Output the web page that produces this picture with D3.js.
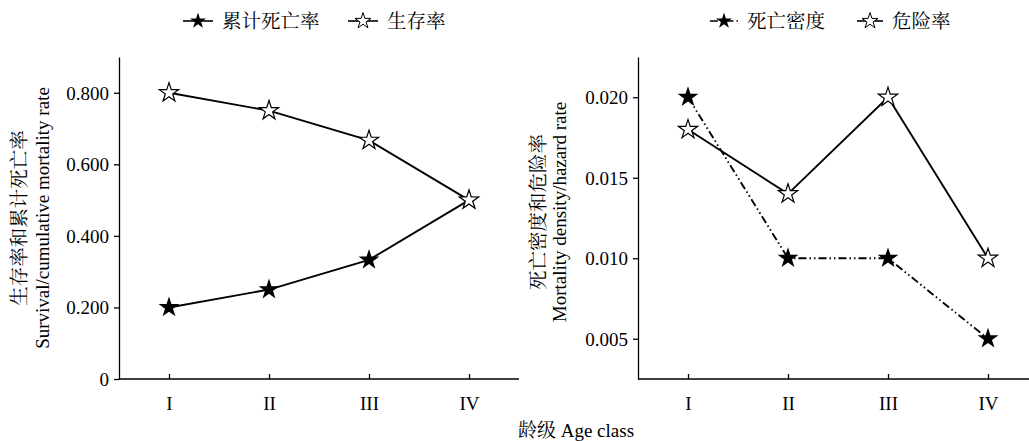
<!DOCTYPE html>
<html>
<head>
<meta charset="utf-8">
<script src="https://cdn.jsdelivr.net/npm/d3@7"></script>
<style>
  body { margin: 0; background: #fff; }
  svg text { font-family: "Times New Roman", "Liberation Serif", "Noto Serif CJK SC", "Noto Sans CJK SC", serif; fill: #000; }
  .axis path, .axis line { stroke: #000; stroke-width: 1.3; }
  .axis text { font-size: 19px; }
</style>
</head>
<body>
<div id="chart"></div>
<script>
// Age classes shared by both panels
var ageClasses = ["I", "II", "III", "IV"];

// Left panel: survival and cumulative mortality
var cumMortality = [0.200, 0.250, 0.333, 0.500];
var survival = [0.800, 0.750, 0.667, 0.500];
var leftTicks = [0, 0.2, 0.4, 0.6, 0.8];

// Right panel: mortality density and hazard rate
var mortDensity = [0.020, 0.010, 0.010, 0.005];
var hazardRate = [0.018, 0.014, 0.020, 0.010];
var rightTicks = [0.005, 0.010, 0.015, 0.020];

var W = 1029, H = 441;
var svg = d3.select("#chart").append("svg")
    .attr("width", W)
    .attr("height", H);

var dashDotDot = "8,3,1.5,3,1.5,3";

function drawPanel(opts) {
    var x = d3.scalePoint()
        .domain(ageClasses)
        .range([opts.left, opts.left + 400])
        .padding(0.5);
    var y = d3.scaleLinear()
        .domain(opts.domain)
        .range([379, 57]);

    // x axis: ticks pointing inward
    var gx = svg.append("g")
        .attr("class", "axis")
        .attr("transform", "translate(0,379)")
        .call(d3.axisBottom(x).tickSizeInner(-5).tickSizeOuter(0).tickPadding(18));
    gx.select(".domain").attr("d", "M" + opts.left + ",0H" + (opts.left + 400));

    // y axis
    var gy = svg.append("g")
        .attr("class", "axis")
        .attr("transform", "translate(" + opts.left + ",0)")
        .call(d3.axisLeft(y).tickValues(opts.ticks).tickFormat(opts.fmt)
            .tickSizeInner(5).tickSizeOuter(0).tickPadding(5));
    gy.selectAll(".tick text").attr("dy", "0.34em");

    // y labels (two lines, rotated)
    svg.append("text")
        .attr("transform", "translate(" + opts.labelX1 + "," + opts.labelY + ") rotate(-90)")
        .attr("text-anchor", "middle")
        .attr("dy", "0.35em")
        .style("font-size", "19.5px")
        .text(opts.labelCn);
    svg.append("text")
        .attr("transform", "translate(" + opts.labelX2 + "," + opts.labelY + ") rotate(-90)")
        .attr("text-anchor", "middle")
        .attr("dy", "0.35em")
        .style("font-size", "19px")
        .text(opts.labelEn);

    opts.series.forEach(function (s) {
        var line = d3.line()
            .x(function (d, i) { return x(ageClasses[i]); })
            .y(function (d) { return y(d); });
        svg.append("path")
            .datum(s.values)
            .attr("d", line)
            .attr("fill", "none")
            .attr("stroke", "#000")
            .attr("stroke-width", 1.9)
            .attr("stroke-dasharray", s.dash || null);
    });
    opts.series.forEach(function (s) {
        svg.selectAll(null)
            .data(s.values)
            .enter()
            .append("path")
            .attr("transform", function (d, i) { return "translate(" + x(ageClasses[i]) + "," + y(d) + ")"; })
            .attr("d", d3.symbol(d3.symbolStar, s.filled ? 135 : 115))
            .attr("fill", s.filled ? "#000" : "#fff")
            .attr("stroke", "#000")
            .attr("stroke-width", s.filled ? 0 : 1.2);
    });

    // legend
    opts.legend.forEach(function (l) {
        var g = svg.append("g").attr("transform", "translate(" + l.x + ",21)");
        g.append("line")
            .attr("x1", 0).attr("x2", l.w)
            .attr("stroke", "#000")
            .attr("stroke-width", 1.6)
            .attr("stroke-dasharray", l.dash || null);
        g.append("path")
            .attr("transform", "translate(" + (l.w / 2) + ",0)")
            .attr("d", d3.symbol(d3.symbolStar, 80))
            .attr("fill", l.filled ? "#000" : "#fff")
            .attr("stroke", "#000")
            .attr("stroke-width", l.filled ? 0 : 1);
        g.append("text")
            .attr("x", l.w + 9)
            .attr("dy", "0.35em")
            .style("font-size", "19.5px")
            .text(l.label);
    });
}

drawPanel({
    left: 119,
    domain: [0, 0.9],
    ticks: leftTicks,
    fmt: function (d) { return d === 0 ? "0" : d3.format(".3f")(d); },
    labelX1: 19, labelX2: 42, labelY: 218,
    labelCn: "生存率和累计死亡率",
    labelEn: "Survival/cumulative mortality rate",
    series: [
        { values: cumMortality, filled: true },
        { values: survival, filled: false }
    ],
    legend: [
        { x: 183, w: 30, filled: true, label: "累计死亡率" },
        { x: 348, w: 30, filled: false, label: "生存率" }
    ]
});

drawPanel({
    left: 638,
    domain: [0.0025, 0.0225],
    ticks: rightTicks,
    fmt: d3.format(".3f"),
    labelX1: 538, labelX2: 559, labelY: 212,
    labelCn: "死亡密度和危险率",
    labelEn: "Mortality density/hazard rate",
    series: [
        { values: mortDensity, filled: true, dash: dashDotDot },
        { values: hazardRate, filled: false }
    ],
    legend: [
        { x: 710, w: 28, filled: true, dash: "8,3,1.5,3", label: "死亡密度" },
        { x: 857, w: 26, filled: false, label: "危险率" }
    ]
});

// shared x label
svg.append("text")
    .attr("x", 576)
    .attr("y", 437)
    .attr("text-anchor", "middle")
    .style("font-size", "19px")
    .text("龄级 Age class");
</script>
</body>
</html>
